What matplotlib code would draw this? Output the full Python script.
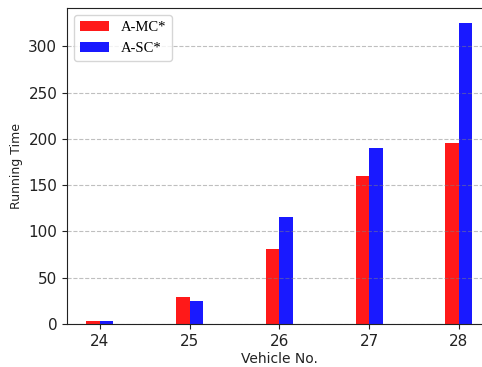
import matplotlib.pyplot as plt
import numpy as np

vehicles = [24, 25, 26, 27, 28]
a_mc = [3, 29, 81, 160, 195]
a_sc = [3, 25, 116, 190, 325]

width = 0.15
x = np.array(vehicles)

fig = plt.figure(figsize=(4.82, 3.67), dpi=100)
ax = fig.add_axes([0.139, 0.117, 0.881, 0.861])

ax.bar(x - width / 2, a_mc, width, color='red', alpha=0.9, label='A-MC*')
ax.bar(x + width / 2, a_sc, width, color='blue', alpha=0.9, label='A-SC*')

ax.set_xticks(vehicles)
ax.grid(axis='y', linestyle='--', color='gray', alpha=0.5)
ax.tick_params(axis='both', labelsize=11, colors='#222222')
for spine in ax.spines.values():
    spine.set_color('#222222')
ax.set_xlabel('Vehicle No.', fontsize=10, labelpad=2, color='#222222')
ax.set_ylabel('Running Time', fontsize=9, color='#222222')
ax.legend(loc='upper left', prop={'family': 'Liberation Serif', 'size': 10.5})

plt.savefig('out.png')
